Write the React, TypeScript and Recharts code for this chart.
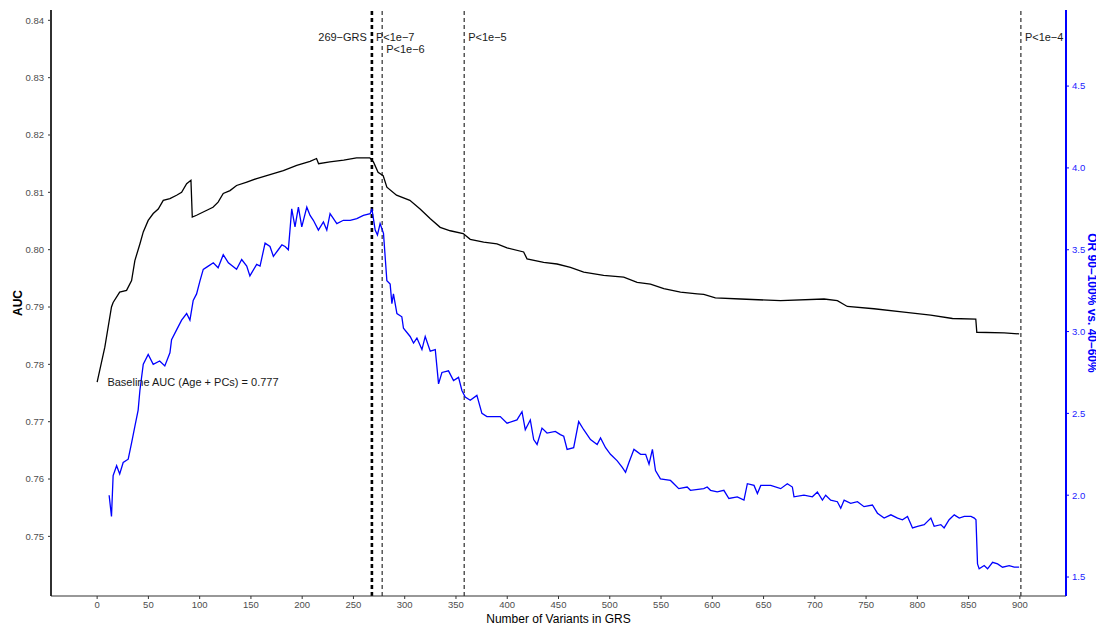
import React from 'react';
import { LineChart, Line, XAxis, YAxis, ReferenceLine, ReferenceDot } from 'recharts';

const FONT = '"Liberation Sans", Arial, Helvetica, sans-serif';

// Number of variants (x) and AUC (left axis)
const aucX = [0, 7.5, 14, 15.6, 22, 28.7, 33.6, 36.8, 41.7, 45, 49.8, 54.7, 59.6, 64.5, 71, 77.5, 82.4, 87.3, 91.5, 92.8, 97, 105, 113, 118, 123, 129.6, 136, 146, 155.6, 168.6, 181.6, 194.7, 207.7, 214, 216, 227, 240.5, 253, 266, 269.5, 274, 279, 282.6, 292, 305, 315, 325, 334.6, 344.4, 357, 363.9, 377, 390, 399.8, 416, 419.3, 435.5, 448.6, 461.6, 474.6, 494, 513.6, 526.7, 539.7, 552.7, 569, 585.3, 591.7, 603, 627.6, 666.6, 709, 722, 731.7, 757.7, 787, 813, 834.3, 857, 858, 884.7, 899.3];
const aucY = [0.7769, 0.783, 0.79, 0.7908, 0.7926, 0.7929, 0.7946, 0.7981, 0.801, 0.8031, 0.8051, 0.8063, 0.8071, 0.8086, 0.8089, 0.8095, 0.81, 0.8115, 0.8121, 0.8057, 0.806, 0.8067, 0.8074, 0.8083, 0.8098, 0.8103, 0.8112, 0.8118, 0.8124, 0.8131, 0.8138, 0.8147, 0.8154, 0.8159, 0.815, 0.8153, 0.8156, 0.816, 0.816, 0.8153, 0.8135, 0.8129, 0.8109, 0.8095, 0.8086, 0.8071, 0.8054, 0.8039, 0.8033, 0.8028, 0.8018, 0.8013, 0.801, 0.8003, 0.7996, 0.7984, 0.7978, 0.7975, 0.7969, 0.7961, 0.7955, 0.7952, 0.7943, 0.794, 0.7932, 0.7926, 0.7923, 0.7922, 0.7916, 0.7914, 0.7911, 0.7914, 0.7911, 0.7901, 0.7897, 0.7891, 0.7886, 0.788, 0.7879, 0.7856, 0.7855, 0.7853];

// Number of variants (x) and OR 90-100% vs 40-60% (right axis)
const orX = [11.7, 14, 15.6, 19, 22, 25.4, 30.3, 33.6, 36.8, 40, 41.7, 45, 49.8, 54.7, 61, 66, 71, 72.6, 77.5, 82.4, 87.3, 90.5, 93.7, 97, 100.3, 103.5, 108.4, 113.3, 118, 123, 128, 136, 141, 145.9, 149, 155.6, 158.9, 163.8, 168.6, 171.9, 176.7, 180.2, 183.3, 186.5, 189.8, 193, 196.3, 199.6, 204.5, 207.7, 210.9, 215.8, 220.7, 224, 227.2, 233.8, 240.2, 246.8, 253.3, 259.7, 266.3, 268, 271.2, 273.4, 276, 279.3, 282.6, 285.8, 287.5, 289, 292.4, 297.2, 298.8, 305.3, 308.6, 311.9, 316.8, 320, 324.9, 329.8, 333, 336.3, 342.7, 347.6, 352.5, 355.8, 359, 363.9, 370.4, 375.3, 380.2, 386.7, 393.2, 399.8, 409.5, 414.4, 417.6, 422.5, 425.8, 429.1, 433.9, 438.8, 446.9, 451.8, 455.1, 458.4, 464.8, 469.7, 474.6, 481.2, 487.7, 491, 495.9, 500.7, 507.3, 512.2, 515.4, 518.7, 523.6, 530.1, 535, 538.3, 541.6, 544.6, 549.4, 559.2, 562.5, 567.3, 575.5, 578.7, 591.7, 595, 598.3, 604.8, 611.3, 616.2, 624.4, 630.9, 634.2, 640.7, 644, 647.3, 657, 666.7, 673.2, 678.1, 679.7, 689.4, 697.6, 702.5, 707.4, 710.6, 715.5, 722, 725.3, 728.6, 735, 741.6, 748, 756.2, 761.1, 767.6, 774.2, 780.7, 785.5, 790.4, 795.3, 800.2, 806.7, 813.2, 816.4, 822.9, 826.1, 831, 836, 840.9, 845.8, 852.3, 855.6, 857.2, 858.7, 860.3, 865.2, 868.5, 873.4, 878.3, 883.1, 889.6, 894.5, 899.3];
const orY = [2.0, 1.87, 2.12, 2.18, 2.13, 2.2, 2.22, 2.32, 2.42, 2.52, 2.64, 2.8, 2.86, 2.8, 2.82, 2.79, 2.87, 2.95, 3.01, 3.07, 3.11, 3.07, 3.19, 3.23, 3.31, 3.38, 3.4, 3.42, 3.39, 3.47, 3.42, 3.38, 3.44, 3.4, 3.34, 3.41, 3.4, 3.54, 3.52, 3.46, 3.5, 3.53, 3.52, 3.5, 3.75, 3.64, 3.76, 3.64, 3.76, 3.71, 3.68, 3.62, 3.67, 3.62, 3.72, 3.66, 3.68, 3.68, 3.69, 3.71, 3.72, 3.75, 3.62, 3.59, 3.66, 3.6, 3.31, 3.29, 3.17, 3.23, 3.11, 3.09, 3.02, 2.97, 2.93, 2.96, 2.89, 2.97, 2.88, 2.89, 2.68, 2.75, 2.76, 2.7, 2.72, 2.64, 2.6, 2.58, 2.61, 2.5, 2.48, 2.48, 2.48, 2.44, 2.46, 2.51, 2.4, 2.46, 2.34, 2.31, 2.41, 2.38, 2.39, 2.37, 2.36, 2.28, 2.29, 2.45, 2.4, 2.34, 2.31, 2.35, 2.29, 2.25, 2.21, 2.17, 2.14, 2.2, 2.28, 2.25, 2.25, 2.19, 2.28, 2.15, 2.1, 2.09, 2.07, 2.04, 2.05, 2.03, 2.04, 2.05, 2.03, 2.02, 2.03, 1.98, 1.99, 1.97, 2.07, 2.06, 2.01, 2.06, 2.06, 2.04, 2.07, 2.05, 1.99, 2.0, 1.99, 2.02, 1.97, 2.0, 1.97, 1.96, 1.92, 1.97, 1.95, 1.96, 1.93, 1.94, 1.89, 1.86, 1.88, 1.86, 1.85, 1.87, 1.8, 1.81, 1.82, 1.86, 1.81, 1.82, 1.8, 1.85, 1.88, 1.86, 1.87, 1.87, 1.86, 1.85, 1.58, 1.55, 1.57, 1.55, 1.59, 1.58, 1.56, 1.57, 1.56, 1.56];

const xTicks = [0, 50, 100, 150, 200, 250, 300, 350, 400, 450, 500, 550, 600, 650, 700, 750, 800, 850, 900];
const aucTicks = [0.75, 0.76, 0.77, 0.78, 0.79, 0.8, 0.81, 0.82, 0.83, 0.84];
const orTicks = [1.5, 2.0, 2.5, 3.0, 3.5, 4.0, 4.5];

const bestGrs = 268;
const bestGrsLabel = '269\u2212GRS';
const cutoffX = [268, 278, 358, 901];
const cutoffLabels = ['P<1e\u22127', 'P<1e\u22126', 'P<1e\u22125', 'P<1e\u22124'];
const cutoffRow = [0, 1, 0, 0];
const baselineAUC = 0.777;
const baselineLabel = 'Baseline AUC (Age + PCs) = 0.777';
const baselineLabelX = 10;

const aucData = aucX.map((x, i) => ({ x, y: aucY[i] }));
const orData = orX.map((x, i) => ({ x, y: orY[i] }));

const TextLabel = (props: any) => {
  const { viewBox, text, dx = 0, dy = 0, anchor = 'start' } = props;
  if (!viewBox) return null;
  return (
    <text
      x={viewBox.x + dx}
      y={viewBox.y + dy}
      textAnchor={anchor}
      dominantBaseline="central"
      fontSize={11}
      fontFamily={FONT}
      fill="#1a1a1a"
    >
      {text}
    </text>
  );
};

const LeftTitle = (props: any) => {
  const { viewBox } = props;
  const cx = viewBox.x + 9.5;
  const cy = viewBox.y + viewBox.height / 2;
  return (
    <text x={cx} y={cy} transform={`rotate(-90 ${cx} ${cy})`} textAnchor="middle" dominantBaseline="central" fontSize={12} fontWeight="bold" fontFamily={FONT} fill="#000">
      AUC
    </text>
  );
};

const RightTitle = (props: any) => {
  const { viewBox } = props;
  const cx = viewBox.x + 26;
  const cy = viewBox.y + viewBox.height / 2;
  return (
    <text x={cx} y={cy} transform={`rotate(90 ${cx} ${cy})`} textAnchor="middle" dominantBaseline="central" fontSize={12} fontWeight="bold" fontFamily={FONT} fill="#0000ff">
      OR 90–100% vs. 40–60%
    </text>
  );
};

const BottomTitle = (props: any) => {
  const { viewBox } = props;
  const cx = viewBox.x + viewBox.width / 2;
  const cy = viewBox.y + 23;
  return (
    <text x={cx} y={cy} textAnchor="middle" dominantBaseline="central" fontSize={12} fontFamily={FONT} fill="#000">
      Number of Variants in GRS
    </text>
  );
};

export default function App() {
  return (
    <LineChart width={1096} height={619} margin={{ top: 2, right: 0, bottom: 0, left: 0 }}>
      <XAxis
        type="number"
        dataKey="x"
        domain={[-45, 945]}
        ticks={xTicks}
        allowDataOverflow
        height={31}
        tickSize={3}
        tickMargin={2}
        tick={{ fontSize: 9.5, fill: '#4d4d4d', fontFamily: FONT }}
        tickLine={{ stroke: '#333' }}
        axisLine={{ stroke: '#333', strokeWidth: 1.2 }}
        label={<BottomTitle />}
      />
      <YAxis
        yAxisId="auc"
        orientation="left"
        type="number"
        domain={[0.7396, 0.8418]}
        ticks={aucTicks}
        allowDataOverflow
        width={43}
        tickSize={3}
        tickMargin={4}
        tickFormatter={(v: number) => v.toFixed(2)}
        tick={{ fontSize: 9.5, fill: '#4d4d4d', fontFamily: FONT }}
        tickLine={{ stroke: '#333' }}
        axisLine={{ stroke: '#1a1a1a', strokeWidth: 1.8 }}
        label={<LeftTitle />}
      />
      <YAxis
        yAxisId="or"
        orientation="right"
        type="number"
        domain={[1.384, 4.965]}
        ticks={orTicks}
        allowDataOverflow
        width={38}
        tickSize={3}
        tickMargin={3}
        tickFormatter={(v: number) => v.toFixed(1)}
        tick={{ fontSize: 9.5, fill: '#2222ff', fontFamily: FONT }}
        tickLine={{ stroke: '#0000ff' }}
        axisLine={{ stroke: '#0000ff', strokeWidth: 2 }}
        label={<RightTitle />}
      />
      {cutoffX.map((x, i) => (
        <ReferenceLine
          key={`c${i}`}
          yAxisId="auc"
          x={x}
          stroke="#1a1a1a"
          strokeWidth={1.1}
          strokeDasharray="4 3"
          label={<TextLabel text={cutoffLabels[i]} dx={4} dy={cutoffRow[i] === 0 ? 26.7 : 39.3} anchor="start" />}
        />
      ))}
      <ReferenceLine
        yAxisId="auc"
        x={bestGrs}
        stroke="#000"
        strokeWidth={2.6}
        strokeDasharray="4 3"
        label={<TextLabel text={bestGrsLabel} dx={-5} dy={26.7} anchor="end" />}
      />
      <Line
        yAxisId="auc"
        data={aucData}
        dataKey="y"
        type="linear"
        stroke="#000"
        strokeWidth={1.3}
        dot={false}
        isAnimationActive={false}
      />
      <Line
        yAxisId="or"
        data={orData}
        dataKey="y"
        type="linear"
        stroke="#0000ff"
        strokeWidth={1.3}
        dot={false}
        isAnimationActive={false}
      />
      <ReferenceDot
        yAxisId="auc"
        x={baselineLabelX}
        y={baselineAUC}
        r={0}
        fill="none"
        stroke="none"
        label={<TextLabel text={baselineLabel} dx={0} dy={0} anchor="start" />}
      />
    </LineChart>
  );
}
